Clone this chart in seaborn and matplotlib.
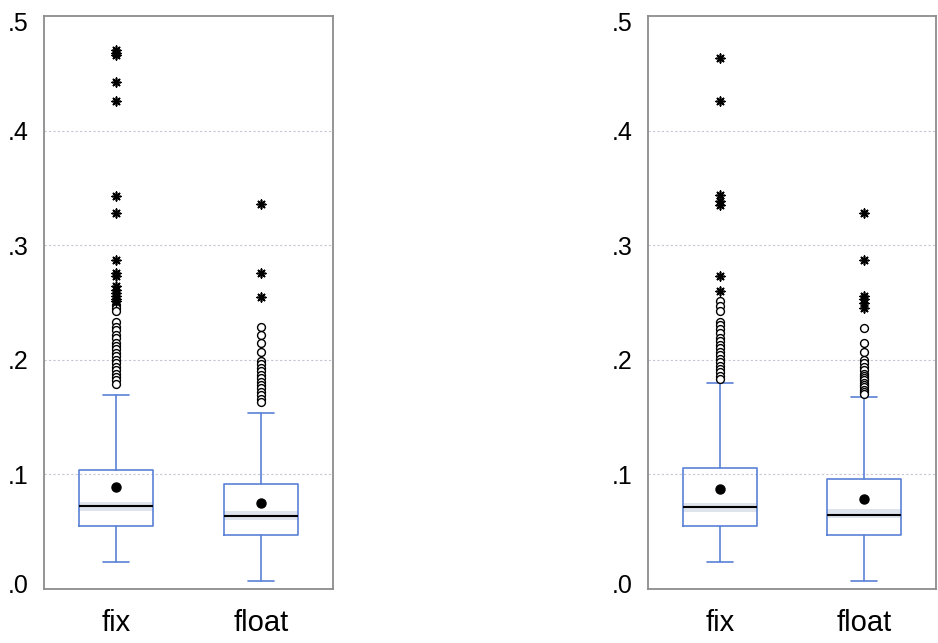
"""Two EViews-style boxplots of fix vs float, drawn from summary statistics."""
import matplotlib

matplotlib.use("Agg")
import matplotlib.pyplot as plt
import matplotlib.transforms as mtransforms
import seaborn as sns

sns.set_theme(style="white")
plt.rcParams["font.family"] = ["Liberation Sans", "DejaVu Sans"]

groups = ["fix", "float"]
yticks = [0.0, 0.1, 0.2, 0.3, 0.4, 0.5]
ytick_labels = [".0", ".1", ".2", ".3", ".4", ".5"]

# left panel: q1, median, q3, whisker low/high, mean
left_q1 = [0.055, 0.047]
left_med = [0.0724, 0.0637]
left_q3 = [0.1038, 0.0916]
left_wlo = [0.0236, 0.007]
left_whi = [0.169, 0.154]
left_mean = [0.089, 0.0753]
left_ci_lo = [0.0683, 0.0600]
left_ci_hi = [0.0762, 0.0680]
left_near = [
    [0.248, 0.245, 0.243, 0.233, 0.229, 0.226, 0.222, 0.219, 0.215, 0.212,
     0.209, 0.206, 0.203, 0.200, 0.197, 0.194, 0.191, 0.188, 0.185, 0.182, 0.179],
    [0.229, 0.2215, 0.2145, 0.207, 0.199, 0.196, 0.193, 0.190, 0.187, 0.184,
     0.181, 0.178, 0.175, 0.172, 0.169, 0.166, 0.163],
]
left_far = [
    [0.470, 0.468, 0.466, 0.4425, 0.426, 0.343, 0.328, 0.287, 0.276, 0.273,
     0.264, 0.261, 0.258, 0.256, 0.253, 0.251],
    [0.336, 0.276, 0.255],
]

# right panel
right_q1 = [0.055, 0.047]
right_med = [0.0716, 0.0646]
right_q3 = [0.1056, 0.096]
right_wlo = [0.0236, 0.007]
right_whi = [0.1795, 0.1675]
right_mean = [0.0873, 0.0785]
right_ci_lo = [0.0672, 0.0622]
right_ci_hi = [0.0753, 0.0698]
right_near = [
    [0.251, 0.247, 0.243, 0.233, 0.230, 0.227, 0.223, 0.219, 0.216, 0.213,
     0.210, 0.207, 0.204, 0.201, 0.198, 0.195, 0.192, 0.189, 0.186, 0.183],
    [0.2277, 0.2145, 0.207, 0.200, 0.197, 0.194, 0.191, 0.188, 0.186, 0.184,
     0.182, 0.180, 0.178, 0.176, 0.174, 0.172, 0.170],
]
right_far = [
    [0.463, 0.426, 0.344, 0.339, 0.335, 0.273, 0.260],
    [0.328, 0.287, 0.256, 0.253, 0.250, 0.245],
]

BLUE = "#5a82d6"
FRAME = "#8c8c8c"
BOX_W = 0.51


def draw_panel(ax, q1, med, q3, wlo, whi, mean, ci_lo, ci_hi, near, far):
    stats = []
    for i, g in enumerate(groups):
        stats.append(dict(label=g, q1=q1[i], med=med[i], q3=q3[i],
                          whislo=wlo[i], whishi=whi[i], mean=mean[i], fliers=[]))
    # median confidence band
    for i in range(len(groups)):
        ax.fill_between([i - BOX_W / 2, i + BOX_W / 2], ci_lo[i], ci_hi[i],
                        color="#dfe3ec", lw=0, zorder=1)
    ax.bxp(stats, positions=range(len(groups)), widths=BOX_W, capwidths=0.18,
           showmeans=True, showfliers=False,
           boxprops=dict(color=BLUE, lw=1.2),
           whiskerprops=dict(color=BLUE, lw=1.2),
           capprops=dict(color=BLUE, lw=1.2),
           medianprops=dict(color="black", lw=1.5),
           meanprops=dict(marker="o", markerfacecolor="black",
                          markeredgecolor="black", markersize=6.5))
    for i in range(len(groups)):
        ax.scatter([i] * len(near[i]), near[i], s=32, facecolors="white",
                   edgecolors="black", linewidths=1.0, zorder=3)
        ax.scatter([i] * len(far[i]), far[i], s=38, marker=(8, 2, 0),
                   color="black", linewidths=1.2, zorder=3)

    ax.set_xlim(-0.5, 1.5)
    ax.set_ylim(0, 0.5)
    ax.set_yticks(yticks)
    ax.set_yticklabels(ytick_labels)
    ax.set_xticks(range(len(groups)))
    ax.set_xticklabels(groups)
    ax.tick_params(axis="y", length=0, pad=11, labelsize=18, labelcolor="black")
    ax.tick_params(axis="x", length=0, pad=14.5, labelsize=21, labelcolor="black")
    # end labels sit a little inside the frame, as in the source
    labels = ax.get_yticklabels()
    labels[0].set_transform(labels[0].get_transform() + mtransforms.ScaledTranslation(0, 4 / 72, ax.figure.dpi_scale_trans))
    labels[-1].set_transform(labels[-1].get_transform() + mtransforms.ScaledTranslation(0, -4 / 72, ax.figure.dpi_scale_trans))
    for y in yticks[1:-1]:
        ax.axhline(y, color="#c8c4d4", lw=0.8, ls=(0, (2, 2)), zorder=0)
    for s in ax.spines.values():
        s.set_color(FRAME)
        s.set_linewidth(1.3)


fig = plt.figure(figsize=(9.38, 6.43), dpi=100)
ax1 = fig.add_axes([44 / 938, 54 / 643, 289 / 938, 573 / 643])
ax2 = fig.add_axes([648 / 938, 54 / 643, 288 / 938, 573 / 643])

draw_panel(ax1, left_q1, left_med, left_q3, left_wlo, left_whi, left_mean,
           left_ci_lo, left_ci_hi, left_near, left_far)
draw_panel(ax2, right_q1, right_med, right_q3, right_wlo, right_whi, right_mean,
           right_ci_lo, right_ci_hi, right_near, right_far)

fig.savefig("out.png", dpi=100)
